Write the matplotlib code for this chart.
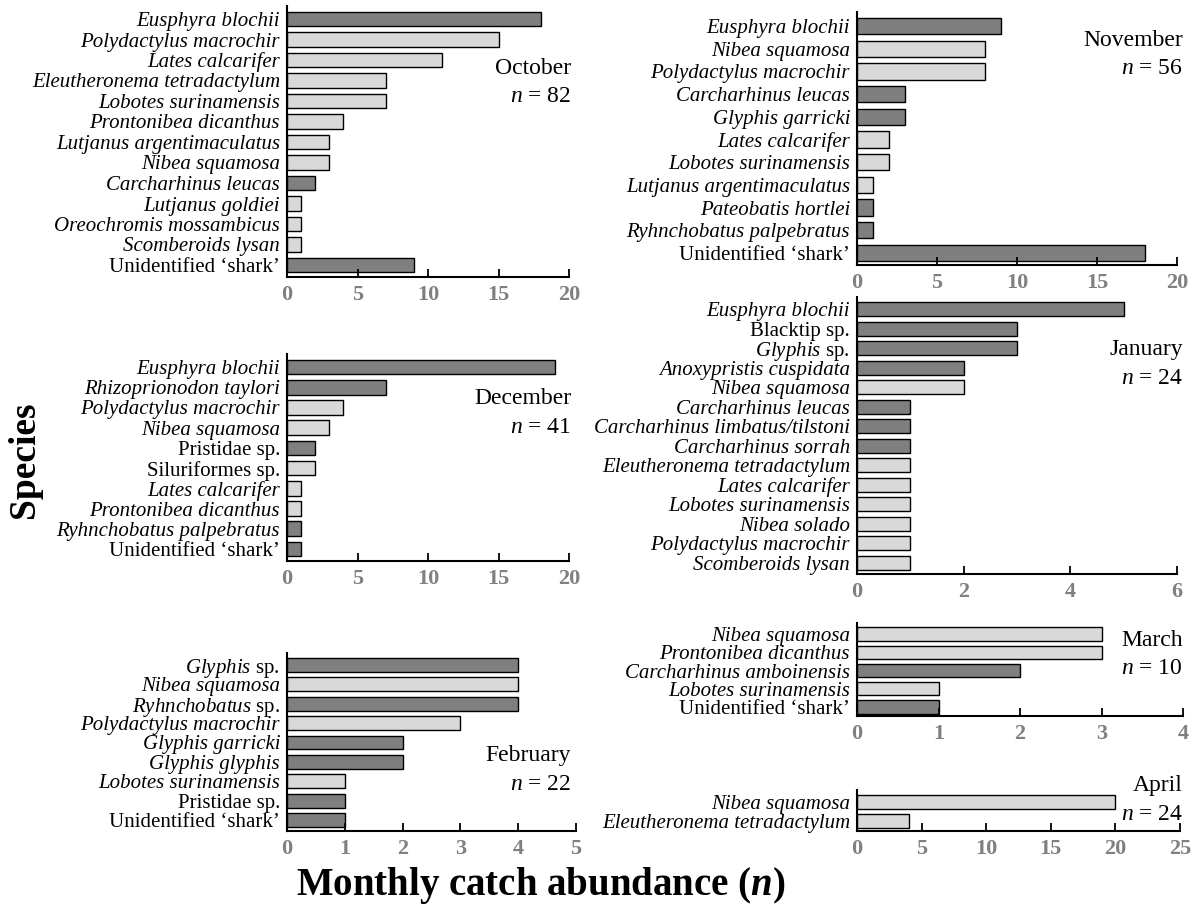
import matplotlib
matplotlib.use("Agg")
import matplotlib.pyplot as plt

plt.rcParams["font.family"] = ["Liberation Serif", "DejaVu Serif"]
plt.rcParams["mathtext.fontset"] = "custom"
plt.rcParams["mathtext.rm"] = "Liberation Serif"
plt.rcParams["mathtext.it"] = "Liberation Serif:italic"
plt.rcParams["mathtext.bf"] = "Liberation Serif:bold"
plt.rcParams["mathtext.bfit"] = "Liberation Serif:bold:italic"

# ---------------- data ----------------
oct_species = ["Eusphyra blochii", "Polydactylus macrochir", "Lates calcarifer",
               "Eleutheronema tetradactylum", "Lobotes surinamensis",
               "Prontonibea dicanthus", "Lutjanus argentimaculatus", "Nibea squamosa",
               "Carcharhinus leucas", "Lutjanus goldiei", "Oreochromis mossambicus",
               "Scomberoids lysan", "Unidentified ‘shark’"]
oct_counts = [18, 15, 11, 7, 7, 4, 3, 3, 2, 1, 1, 1, 9]

nov_species = ["Eusphyra blochii", "Nibea squamosa", "Polydactylus macrochir",
               "Carcharhinus leucas", "Glyphis garricki", "Lates calcarifer",
               "Lobotes surinamensis", "Lutjanus argentimaculatus", "Pateobatis hortlei",
               "Ryhnchobatus palpebratus", "Unidentified ‘shark’"]
nov_counts = [9, 8, 8, 3, 3, 2, 2, 1, 1, 1, 18]

dec_species = ["Eusphyra blochii", "Rhizoprionodon taylori", "Polydactylus macrochir",
               "Nibea squamosa", "Pristidae sp.", "Siluriformes sp.", "Lates calcarifer",
               "Prontonibea dicanthus", "Ryhnchobatus palpebratus", "Unidentified ‘shark’"]
dec_counts = [19, 7, 4, 3, 2, 2, 1, 1, 1, 1]

jan_species = ["Eusphyra blochii", "Blacktip sp.", "Glyphis sp.", "Anoxypristis cuspidata",
               "Nibea squamosa", "Carcharhinus leucas", "Carcharhinus limbatus/tilstoni",
               "Carcharhinus sorrah", "Eleutheronema tetradactylum", "Lates calcarifer",
               "Lobotes surinamensis", "Nibea solado", "Polydactylus macrochir",
               "Scomberoids lysan"]
jan_counts = [5, 3, 3, 2, 2, 1, 1, 1, 1, 1, 1, 1, 1, 1]

feb_species = ["Glyphis sp.", "Nibea squamosa", "Ryhnchobatus sp.", "Polydactylus macrochir",
               "Glyphis garricki", "Glyphis glyphis", "Lobotes surinamensis",
               "Pristidae sp.", "Unidentified ‘shark’"]
feb_counts = [4, 4, 4, 3, 2, 2, 1, 1, 1]

mar_species = ["Nibea squamosa", "Prontonibea dicanthus", "Carcharhinus amboinensis",
               "Lobotes surinamensis", "Unidentified ‘shark’"]
mar_counts = [3, 3, 2, 1, 1]

apr_species = ["Nibea squamosa", "Eleutheronema tetradactylum"]
apr_counts = [20, 4]

month_names = ["October", "November", "December", "January", "February", "March", "April"]
month_totals = [82, 56, 41, 24, 22, 10, 24]

# elasmobranch groups drawn in dark grey, bony fishes in light grey
elasmo_groups = {"Eusphyra", "Carcharhinus", "Glyphis", "Pristidae", "Rhizoprionodon",
                 "Ryhnchobatus", "Pateobatis", "Anoxypristis", "Blacktip", "Unidentified"}
upright_names = {"Pristidae sp.", "Siluriformes sp.", "Blacktip sp.", "Unidentified ‘shark’"}

DARK = "#7f7f7f"
LIGHT = "#d9d9d9"
TICK_GREY = "#808080"
LABEL_SIZE = 15


def label_text(name):
    """Genus in italics for 'Genus sp.' entries, otherwise the plain name."""
    if name not in upright_names and name.endswith(" sp."):
        return r"$\mathit{%s}$ sp." % name[:-4]
    return name


def label_style(name):
    if name in upright_names or name.endswith(" sp."):
        return "normal"
    return "italic"


W, H = 1197, 906
fig = plt.figure(figsize=(W / 100, H / 100), dpi=100)


def panel(species, counts, xmax, xstep, x0, x1, y_first, y_last, y_axis,
          month, total, lab_x, lab_y):
    n = len(species)
    s = (y_last - y_first) / (n - 1)
    top = y_first - 0.62 * s
    ax = fig.add_axes([x0 / W, 1 - y_axis / H, (x1 - x0) / W, (y_axis - top) / H])
    colors = [DARK if sp.split()[0] in elasmo_groups else LIGHT for sp in species]
    ax.barh(range(n), counts, height=0.72, color=colors, edgecolor="black", linewidth=1.0)
    ax.set_ylim((y_axis - y_first) / s, -0.62)
    ax.set_xlim(0, xmax)
    ax.set_xticks(range(0, xmax + 1, xstep))
    ax.set_yticks(range(n))
    labels = ax.set_yticklabels([label_text(sp) for sp in species], fontsize=LABEL_SIZE)
    for lab, sp in zip(labels, species):
        lab.set_fontstyle(label_style(sp))
    ax.tick_params(axis="y", length=0, pad=5)
    ax.tick_params(axis="x", direction="in", length=6, width=1.3, pad=6,
                   labelsize=16, labelcolor=TICK_GREY)
    for lab in ax.get_xticklabels():
        lab.set_fontweight("bold")
    for side in ("top", "right"):
        ax.spines[side].set_visible(False)
    for side in ("left", "bottom"):
        ax.spines[side].set_linewidth(1.5)
    ax.set_facecolor("none")
    fig.text(lab_x / W, 1 - lab_y / H, month, ha="right", va="center", fontsize=17)
    fig.text(lab_x / W, 1 - (lab_y + 29) / H, r"$\mathit{n}$ = %d" % total,
             ha="right", va="center", fontsize=17)
    return ax


panel(oct_species, oct_counts, 20, 5, 287, 569, 19, 265, 277,
      month_names[0], month_totals[0], 571, 68)
panel(nov_species, nov_counts, 20, 5, 857, 1177, 26, 253, 265,
      month_names[1], month_totals[1], 1183, 40)
panel(dec_species, dec_counts, 20, 5, 287, 569, 367, 549, 561,
      month_names[2], month_totals[2], 571, 398)
panel(jan_species, jan_counts, 6, 2, 857, 1177, 309, 563, 574,
      month_names[3], month_totals[3], 1183, 350)
panel(feb_species, feb_counts, 5, 1, 287, 576, 665, 820, 831,
      month_names[4], month_totals[4], 571, 755)
panel(mar_species, mar_counts, 4, 1, 857, 1183, 634, 707, 716,
      month_names[5], month_totals[5], 1183, 640)
panel(apr_species, apr_counts, 25, 5, 857, 1180, 802, 821, 831,
      month_names[6], month_totals[6], 1183, 786)

fig.text(24 / W, 1 - 460 / H, "Species", rotation=90, ha="center", va="center",
         fontsize=27, fontweight="bold")
fig.text(541 / W, 1 - 886 / H, r"Monthly catch abundance ($\mathbfit{n}$)",
         ha="center", va="center", fontsize=28, fontweight="bold")

fig.savefig("out.png", dpi=100, facecolor="white")
